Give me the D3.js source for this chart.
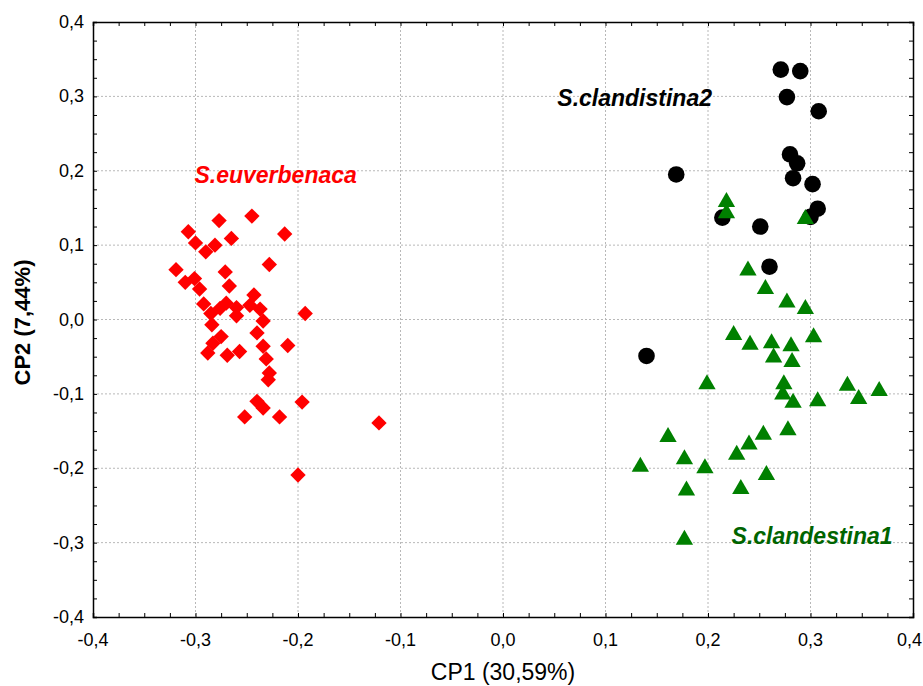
<!DOCTYPE html>
<html><head><meta charset="utf-8">
<script src="https://cdn.jsdelivr.net/npm/d3@7"></script>
<style>body{margin:0;background:#fff}svg{display:block}text{font-family:"Liberation Sans",Arial,sans-serif}</style>
</head><body>
<svg id="chart" width="923" height="686"></svg>
<script>
const xTicks = [-0.4,-0.3,-0.2,-0.1,0.0,0.1,0.2,0.3,0.4];
const yTicks = [-0.4,-0.3,-0.2,-0.1,0.0,0.1,0.2,0.3,0.4];
const xTitle = "CP1 (30,59%)";
const yTitle = "CP2 (7,44%)";

const euverbenacaX = [-0.307,-0.277,-0.245,-0.213,-0.300,-0.290,-0.281,-0.265,-0.319,-0.228,-0.271,-0.310,-0.301,-0.296,-0.267,-0.243,-0.292,-0.270,-0.260,-0.247,-0.237,-0.234,-0.285,-0.276,-0.260,-0.193,-0.284,-0.240,-0.275,-0.283,-0.288,-0.269,-0.257,-0.234,-0.210,-0.231,-0.228,-0.229,-0.240,-0.234,-0.252,-0.218,-0.196,-0.121,-0.200];
const euverbenacaY = [0.118,0.133,0.139,0.115,0.103,0.091,0.100,0.109,0.067,0.074,0.064,0.050,0.055,0.041,0.045,0.033,0.021,0.022,0.016,0.019,0.014,-0.002,0.008,0.015,0.005,0.008,-0.007,-0.018,-0.023,-0.032,-0.045,-0.048,-0.043,-0.036,-0.035,-0.053,-0.072,-0.081,-0.110,-0.119,-0.131,-0.131,-0.111,-0.139,-0.209];

const clandistina2X = [0.271,0.290,0.277,0.308,0.280,0.287,0.283,0.302,0.169,0.307,0.300,0.214,0.251,0.260,0.140];
const clandistina2Y = [0.336,0.334,0.299,0.280,0.222,0.210,0.190,0.182,0.195,0.149,0.138,0.137,0.125,0.071,-0.049];

const clandestina1X = [0.218,0.218,0.295,0.239,0.256,0.277,0.295,0.225,0.241,0.262,0.281,0.303,0.264,0.282,0.199,0.274,0.273,0.283,0.307,0.336,0.347,0.367,0.161,0.278,0.254,0.240,0.228,0.177,0.134,0.197,0.257,0.179,0.232,0.177];
const clandestina1Y = [0.158,0.143,0.135,0.066,0.041,0.023,0.014,-0.021,-0.034,-0.032,-0.036,-0.024,-0.051,-0.057,-0.087,-0.087,-0.101,-0.112,-0.110,-0.089,-0.107,-0.096,-0.158,-0.149,-0.155,-0.168,-0.182,-0.188,-0.198,-0.200,-0.209,-0.230,-0.228,-0.296];

const groupNames = ["S.euverbenaca","S.clandistina2","S.clandestina1"];

const W = 923;
const svg = d3.select("#chart");
const L = 93, R = 913, T = 22, B = 617;
const x = d3.scaleLinear().domain([-0.4,0.4]).range([L,R]);
const y = d3.scaleLinear().domain([-0.4,0.4]).range([B,T]);
const fmt = d => d3.format(".1f")(d).replace(".", ",").replace("−","-");

// grid
const grid = svg.append("g");
grid.selectAll(".gx").data(xTicks.slice(1,-1)).join("line")
  .attr("x1",d=>x(d)).attr("x2",d=>x(d)).attr("y1",T).attr("y2",B)
  .attr("stroke","#b8b8b8").attr("stroke-width",1).attr("stroke-dasharray","2,2");
grid.selectAll(".gy").data(yTicks.slice(1,-1)).join("line")
  .attr("y1",d=>y(d)).attr("y2",d=>y(d)).attr("x1",L).attr("x2",R)
  .attr("stroke","#b8b8b8").attr("stroke-width",1).attr("stroke-dasharray","2,2");

// axes with inward minor ticks
const minor = d3.range(-0.4, 0.4001, 0.025);
const axB = d3.axisBottom(x).tickValues(minor).tickSize(-4).tickFormat("");
const axT = d3.axisTop(x).tickValues(minor).tickSize(-4).tickFormat("");
const axL = d3.axisLeft(y).tickValues(minor).tickSize(-4).tickFormat("");
const axR = d3.axisRight(y).tickValues(minor).tickSize(-4).tickFormat("");
[[axB,`translate(0,${B})`],[axT,`translate(0,${T})`],[axL,`translate(${L},0)`],[axR,`translate(${R},0)`]].forEach(([a,t])=>{
  const g = svg.append("g").attr("transform",t).call(a);
  g.selectAll("path").attr("stroke","#000").attr("stroke-width",1.5);
  g.selectAll("line").attr("stroke","#000");
});

// tick labels
const xl = svg.append("g").selectAll("text").data(xTicks).join("text")
  .attr("x",d=>x(d)).attr("y",B+29).attr("text-anchor","middle")
  .attr("font-size",18).text(fmt);
xl.each(function(){
  const bb = this.getBBox();
  if (bb.x + bb.width > W - 1) d3.select(this).attr("x", W - 1 - bb.width/2);
});
svg.append("g").selectAll("text").data(yTicks).join("text")
  .attr("x",L-9).attr("y",d=>y(d)+6).attr("text-anchor","end")
  .attr("font-size",18).text(fmt);

svg.append("text").attr("x",(L+R)/2).attr("y",680).attr("text-anchor","middle")
  .attr("font-size",23).text(xTitle);
svg.append("text").attr("transform",`translate(30,${(T+B)/2+3}) rotate(-90)`)
  .attr("text-anchor","middle").attr("font-size",22).attr("font-weight","bold").text(yTitle);

// points
const sq = d3.symbol().type(d3.symbolSquare).size(118);
svg.append("g").selectAll("path").data(d3.zip(euverbenacaX,euverbenacaY)).join("path")
  .attr("d",sq).attr("transform",d=>`translate(${x(d[0])},${y(d[1])}) rotate(45)`).attr("fill","#ff0000");
svg.append("g").selectAll("circle").data(d3.zip(clandistina2X,clandistina2Y)).join("circle")
  .attr("cx",d=>x(d[0])).attr("cy",d=>y(d[1])).attr("r",8.3).attr("fill","#000");
const tri = d3.symbol().type(d3.symbolTriangle).size(130);
svg.append("g").selectAll("path").data(d3.zip(clandestina1X,clandestina1Y)).join("path")
  .attr("d",tri).attr("transform",d=>`translate(${x(d[0])},${y(d[1])})`).attr("fill","#008000");

// labels
const lab = [[groupNames[0],-0.301,0.183,"#ff0000"],[groupNames[1],0.053,0.287,"#000"],[groupNames[2],0.223,-0.302,"#006400"]];
svg.append("g").selectAll("text").data(lab).join("text")
  .attr("x",d=>x(d[1])).attr("y",d=>y(d[2])).attr("font-size",23)
  .attr("font-weight","bold").attr("font-style","italic").attr("fill",d=>d[3]).text(d=>d[0]);
</script>
</body></html>
